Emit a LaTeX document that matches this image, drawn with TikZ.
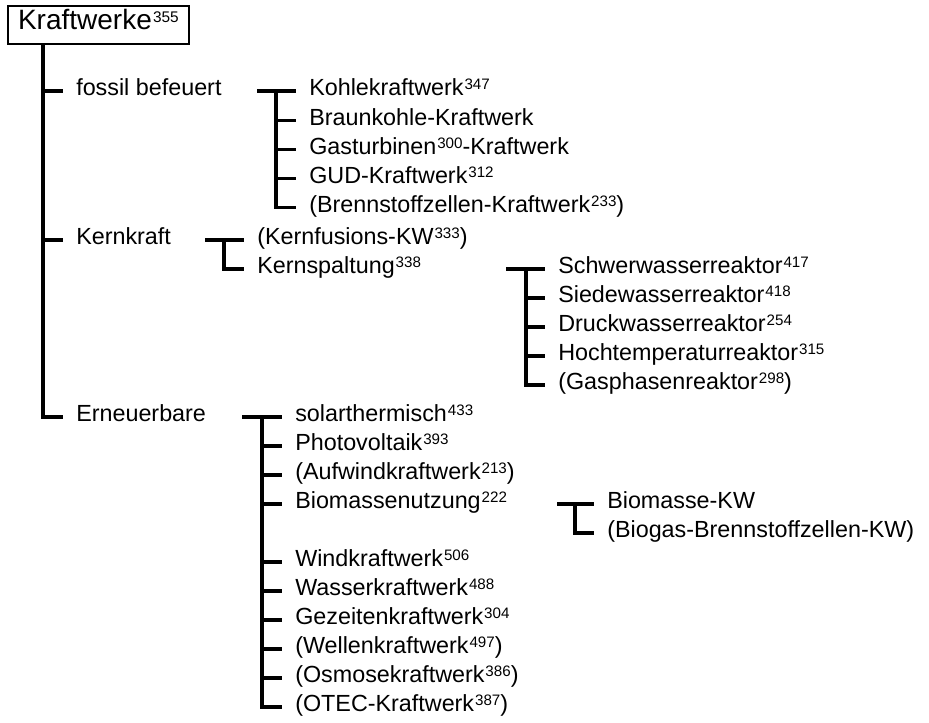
\documentclass[tikz,border=0pt]{standalone}
\usepackage{fontspec}
\setmainfont{Liberation Sans}
\usepackage{tikz}
\usetikzlibrary{positioning}
\newcommand\anm[2][.65]{\kern.04em\raisebox{.25em}{\scalebox{#1}{#2}}}
\tikzset{
  item/.style={anchor=west,inner sep=0pt,text height=.8em,text depth=.08em,font=\fontsize{17.5}{20}\selectfont},
  titel/.style={item,draw,line width=1.6pt,inner xsep=7.5pt,minimum height=28.5pt,font=\fontsize{21}{24}\selectfont},
  link/.style={line width=2.3pt}
}
\begin{document}
\begin{tikzpicture}[x=0.75pt,y=-0.75pt]
\useasboundingbox (0,0) rectangle (929,722);
\node[titel] (kw) at (7,25) {Kraftwerke\anm[.55]{355}};
\node[item] (fos) at (76,91) {fossil befeuert};
\node[item] (kern) at (76,240) {Kernkraft};
\node[item] (ern) at (76,417) {Erneuerbare};
\node[item] (f1) at (309,91) {Kohlekraftwerk\anm{347}};
\node[item] (f2) at (309,120.2) {Braunkohle-Kraftwerk};
\node[item] (f3) at (309,149.4) {Gasturbinen\anm{300}-Kraftwerk};
\node[item] (f4) at (309,178.6) {GUD-Kraftwerk\anm{312}};
\node[item] (f5) at (309,207.8) {(Brennstoffzellen-Kraftwerk\anm{233})};
\node[item] (k1) at (257,240) {(Kernfusions-KW\anm{333})};
\node[item] (k2) at (257,269) {Kernspaltung\anm{338}};
\node[item] (s1) at (558,269) {Schwerwasserreaktor\anm{417}};
\node[item] (s2) at (558,298) {Siedewasserreaktor\anm{418}};
\node[item] (s3) at (558,327) {Druckwasserreaktor\anm{254}};
\node[item] (s4) at (558,356) {Hochtemperaturreaktor\anm{315}};
\node[item] (s5) at (558,385) {(Gasphasenreaktor\anm{298})};
\node[item] (e1) at (295,417) {solarthermisch\anm{433}};
\node[item] (e2) at (295,446) {Photovoltaik\anm{393}};
\node[item] (e3) at (295,475) {(Aufwindkraftwerk\anm{213})};
\node[item] (e4) at (295,504) {Biomassenutzung\anm{222}};
\node[item] (e5) at (295,562) {Windkraftwerk\anm{506}};
\node[item] (e6) at (295,591) {Wasserkraftwerk\anm{488}};
\node[item] (e7) at (295,620) {Gezeitenkraftwerk\anm{304}};
\node[item] (e8) at (295,649) {(Wellenkraftwerk\anm{497})};
\node[item] (e9) at (295,678) {(Osmosekraftwerk\anm{386})};
\node[item] (e10) at (295,707) {(OTEC-Kraftwerk\anm{387})};
\node[item] (b1) at (607,504) {Biomasse-KW};
\node[item] (b2) at (607,533) {(Biogas-Brennstoffzellen-KW)};

\coordinate (stamm) at (43,44);
\coordinate (fosA) at (257,91);   \coordinate (fosJ) at (276,91);
\coordinate (kernA) at (205,240); \coordinate (kernJ) at (224,240);
\coordinate (spA) at (506,269);   \coordinate (spJ) at (526,269);
\coordinate (ernA) at (242,417);  \coordinate (ernJ) at (262,417);
\coordinate (bioA) at (557,504);  \coordinate (bioJ) at (575,504);

\draw[link] (stamm) |- ([xshift=-10pt]ern.west);
\foreach \n in {fos,kern}
  \draw[link] (stamm |- \n) -- ([xshift=-10pt]\n.west);

\draw[link] (fosA) -- ([xshift=-10pt]f1.west);
\draw[link] (fosJ) |- ([xshift=-10pt]f5.west);
\foreach \n in {f2,f3,f4}
  \draw[link] (fosJ |- \n) -- ([xshift=-10pt]\n.west);

\draw[link] (kernA) -- ([xshift=-10pt]k1.west);
\draw[link] (kernJ) |- ([xshift=-10pt]k2.west);

\draw[link] (spA) -- ([xshift=-10pt]s1.west);
\draw[link] (spJ) |- ([xshift=-10pt]s5.west);
\foreach \n in {s2,s3,s4}
  \draw[link] (spJ |- \n) -- ([xshift=-10pt]\n.west);

\draw[link] (ernA) -- ([xshift=-10pt]e1.west);
\draw[link] (ernJ) |- ([xshift=-10pt]e10.west);
\foreach \n in {e2,e3,e4,e5,e6,e7,e8,e9}
  \draw[link] (ernJ |- \n) -- ([xshift=-10pt]\n.west);

\draw[link] (bioA) -- ([xshift=-10pt]b1.west);
\draw[link] (bioJ) |- ([xshift=-10pt]b2.west);
\end{tikzpicture}
\end{document}
